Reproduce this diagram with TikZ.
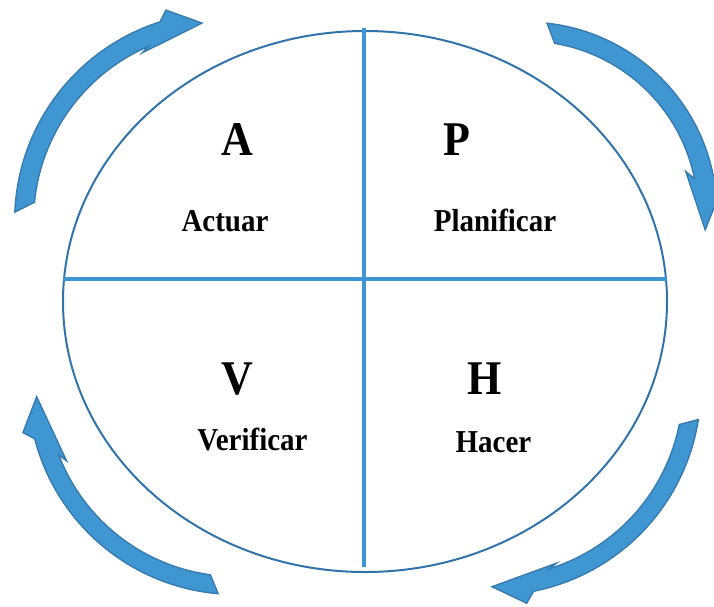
\documentclass[tikz,border=0pt]{standalone}
\usepackage{graphicx}
\usepackage{fontspec}
\setmainfont{Liberation Serif}
\usetikzlibrary{shapes.geometric}
\definecolor{ovalblue}{HTML}{3274AA}
\definecolor{lineblue}{HTML}{3E95D2}
\definecolor{arrfill}{HTML}{3F96D1}
\definecolor{arredge}{HTML}{3679AE}
\tikzset{
  cyclearrow/.style={fill=arrfill, draw=arredge, line width=1.3pt, line join=miter},
  divider/.style={draw=lineblue, line width=4pt},
  bigletter/.style={anchor=base, font=\fontsize{44}{50}\selectfont\bfseries, inner sep=0pt},
  word/.style={anchor=base, font=\fontsize{29}{34}\selectfont\bfseries, inner sep=0pt},
}
\begin{document}
\begin{tikzpicture}[x=1pt,y=-1pt]
\useasboundingbox (0,0) rectangle (714,606);
% oval
\node[ellipse, draw=ovalblue, line width=2pt, minimum width=604pt, minimum height=541pt, inner sep=0pt] (oval) at (365,301.5) {};
% dividers
\coordinate (hl) at (63,279);
\coordinate (hr) at (667,279);
\coordinate (vt) at (364,28);
\coordinate (vb) at (364,567);
\draw[divider] (hl) -- (hr);
\draw[divider] (vt) -- (vb);
% top-left arrow
\begin{scope}[shift={(223.6,220.9)}, yscale=-1]
\draw[cyclearrow] (177.6:209) arc[start angle=177.6, end angle=107.7, radius=209]
  -- (105.3:218.6) -- (96.2:199) -- (115.9:186.7) -- (113.3:190)
  arc[start angle=113.3, end angle=174.4, radius=190] -- cycle;
\end{scope}
% top-right arrow
\begin{scope}[shift={(526,213)}, yscale=-1]
\draw[cyclearrow] (83.7:191) arc[start angle=83.7, end angle=11.5, radius=191]
  -- (9:201) -- (-5.4:180) -- (14.6:165) -- (11.5:172)
  arc[start angle=11.5, end angle=80.4, radius=172] -- cycle;
\end{scope}
% bottom-right arrow
\begin{scope}[shift={(492.9,387.3)}, yscale=-1]
\draw[cyclearrow] (-8.9:208) arc[start angle=-8.9, end angle=-78.7, radius=208]
  -- (-81.1:218.6) -- (-90.3:199.4) -- (-70.1:187) -- (-72.7:190)
  arc[start angle=-72.7, end angle=-11.3, radius=190] -- cycle;
\end{scope}
% bottom-left arrow
\begin{scope}[shift={(236,386.5)}, yscale=-1]
\draw[cyclearrow] (-94.9:208) arc[start angle=-94.9, end angle=-165.4, radius=208]
  -- (-167.8:218) -- (-177.1:199.6) -- (-156.3:185) -- (-158.9:190)
  arc[start angle=-158.9, end angle=-97.75, radius=190] -- cycle;
\end{scope}
% texts
\node[bigletter] (A) at (237,155) {\scalebox{1}[1.1]{A}};
\node[word] (Actuar) at (225,231) {\scalebox{1}[1.1]{Actuar}};
\node[bigletter] (P) at (457,155) {\scalebox{1}[1.1]{P}};
\node[word] (Planificar) at (495,231) {\scalebox{1}[1.1]{Planificar}};
\node[bigletter] (V) at (237.5,394) {\scalebox{1}[1.1]{V}};
\node[word] (Verificar) at (252.5,450) {\scalebox{1}[1.1]{Verificar}};
\node[bigletter] (H) at (485,394) {\scalebox{1}[1.1]{H}};
\node[word] (Hacer) at (493.5,452.5) {\scalebox{1}[1.1]{Hacer}};
\end{tikzpicture}
\end{document}
